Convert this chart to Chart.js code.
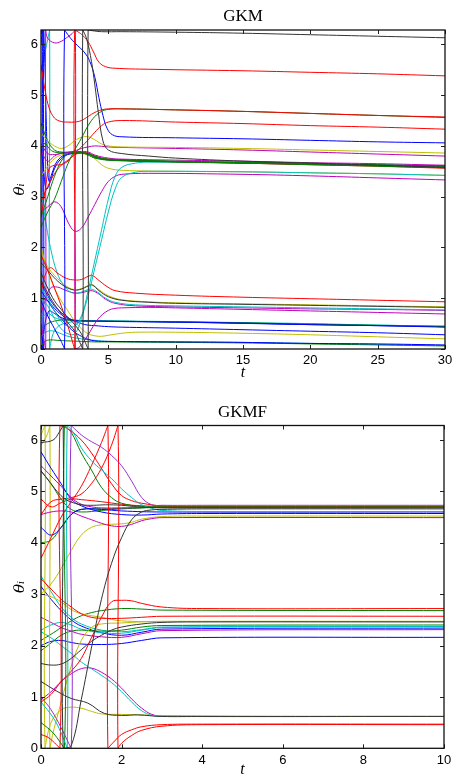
<!DOCTYPE html>
<html>
<head>
<meta charset="utf-8">
<script src="https://cdn.jsdelivr.net/npm/chart.js@4.4.1/dist/chart.umd.min.js"></script>
<style>
    body { margin: 0; background: #fff; overflow: hidden; }
    .caixa { position: absolute; left: 0; width: 454px; }
</style>
</head>
<body>
<div class="caixa" style="top:0; height:390px"><canvas id="grafico1"></canvas></div>
<div class="caixa" style="top:390px; height:392px"><canvas id="grafico2"></canvas></div>
<script>
// cores no estilo do matlab
const CORES = { b: '#0000ff', g: '#008000', r: '#ff0000', c: '#00bfbf', m: '#bf00bf', y: '#bfbf00', k: '#333333', p: '#9933cc' };
const TOPO = 2 * Math.PI;

// ---------- GKM : pares [t, theta] ----------
const gkm_k1 = [[0,1.5],[0.5,1.2],[1,0.95],[1.5,0.78],[2,0.62],[2.5,0.48],[3,0.3],[3.3,0.12],[3.5,0],[3.5,6.283],[3.8,6.27],[4.5,6.25],[6,6.25],[10,6.24],[15,6.22],[20,6.19],[25,6.16],[30,6.13]];
const gkm_k2 = [[0,1.35],[0.5,1.1],[1,0.88],[1.5,0.7],[2,0.52],[2.5,0.35],[2.8,0.18],[3.1,0],[3.1,6.283],[3.4,6.1],[3.75,5.66],[4,5.2],[4.25,4.68],[4.6,4.1],[5,3.92],[6,3.85],[8,3.8],[10,3.76],[15,3.7],[20,3.66],[25,3.62],[30,3.58]];
const gkm_r3 = [[0,1.85],[0.5,1.55],[1,1.2],[1.5,0.85],[2,0.45],[2.5,0],[2.5,6.283],[3,6.2],[3.5,6.05],[3.9,5.85],[4.3,5.65],[4.8,5.56],[5.5,5.53],[8,5.51],[15,5.48],[20,5.45],[25,5.42],[30,5.38]];
const gkm_r4 = [[0,5.6],[0.3,5.1],[0.6,4.75],[1,4.55],[1.5,4.48],[2,4.47],[2.5,4.47],[3,4.5],[3.5,4.58],[4,4.66],[4.5,4.71],[5,4.73],[6,4.73],[10,4.71],[15,4.68],[20,4.64],[25,4.6],[30,4.57]];
const gkm_g5 = [[0,2.4],[0.5,2.7],[1,2.95],[1.5,3.3],[2,3.65],[2.5,3.92],[3,4.15],[3.5,4.4],[4,4.58],[4.5,4.68],[5,4.72],[6,4.73],[10,4.71],[15,4.68],[20,4.64],[25,4.6],[30,4.56]];
const gkm_r6 = [[0,2.6],[0.3,3.1],[0.6,3.55],[1,3.62],[1.5,3.63],[2,3.7],[2.5,3.85],[3,3.98],[3.5,4.12],[4,4.27],[4.5,4.4],[5,4.47],[6,4.5],[10,4.47],[15,4.44],[20,4.4],[25,4.37],[30,4.33]];
const gkm_b7 = [[0,0.95],[0.5,0.65],[1,0.4],[1.5,0.15],[1.75,0],[1.75,6.283],[2.2,6.12],[2.7,5.98],[3.2,5.85],[3.6,5.68],[4,5.35],[4.3,4.95],[4.6,4.6],[4.9,4.35],[5.3,4.22],[6,4.18],[10,4.16],[15,4.14],[20,4.11],[25,4.08],[30,4.06]];
const gkm_y8 = [[0,4.25],[0.5,4.1],[1,4.0],[1.5,3.95],[2,4.0],[2.5,4.1],[3,4.17],[3.5,4.18],[4,4.12],[4.5,4.04],[5,4.0],[6,3.98],[10,3.97],[15,3.95],[20,3.92],[25,3.89],[30,3.86]];
const gkm_m9 = [[0,4.05],[0.5,3.85],[1,3.83],[1.5,3.85],[2,3.87],[2.5,3.9],[3,3.95],[3.5,3.98],[4,4.0],[5,3.98],[6,3.97],[10,3.95],[15,3.92],[20,3.88],[25,3.84],[30,3.8]];
const gkm_g10 = [[0,4.45],[0.5,4.1],[1,3.92],[1.5,3.88],[2,3.87],[2.5,3.87],[3,3.87],[3.5,3.85],[4,3.8],[4.5,3.76],[5,3.74],[6,3.73],[10,3.7],[15,3.68],[20,3.66],[25,3.63],[30,3.6]];
const gkm_g11 = [[0,3.95],[0.3,4.05],[0.6,3.95],[1,3.88],[2,3.86],[3,3.86],[3.5,3.84],[4,3.78],[5,3.72],[6,3.71],[10,3.69],[15,3.67],[20,3.64],[25,3.61],[30,3.58]];
const gkm_g12 = [[0,2.6],[0.5,3.0],[1,3.4],[1.5,3.7],[2,3.84],[2.5,3.87],[3,3.87],[3.5,3.82],[4,3.76],[5,3.72],[10,3.68],[15,3.66],[20,3.63],[25,3.6],[30,3.57]];
const gkm_m13 = [[0,3.9],[0.5,3.7],[1,3.8],[1.5,3.86],[2,3.88],[3,3.89],[3.5,3.88],[4,3.82],[5,3.76],[6,3.74],[10,3.72],[15,3.7],[20,3.67],[25,3.65],[30,3.62]];
const gkm_r14 = [[0,2.9],[0.5,3.2],[1,3.45],[1.5,3.62],[2,3.72],[2.5,3.82],[3,3.87],[3.5,3.86],[4,3.8],[5,3.74],[10,3.69],[15,3.66],[20,3.63],[25,3.6],[30,3.56]];
const gkm_c15 = [[0,1.0],[0.5,0.85],[1,0.6],[1.5,0.4],[2,0.3],[2.5,0.3],[3,0.6],[3.5,1.15],[4,1.75],[4.5,2.35],[5,2.95],[5.5,3.4],[6,3.58],[7,3.66],[8,3.68],[15,3.67],[20,3.65],[25,3.62],[30,3.6]];
const gkm_c16 = [[0,1.2],[0.5,1.0],[1,0.75],[1.5,0.55],[2,0.45],[2.5,0.45],[3,0.65],[3.5,1.05],[4,1.6],[4.5,2.15],[5,2.7],[5.5,3.15],[6,3.38],[7,3.48],[8,3.5],[15,3.49],[20,3.47],[25,3.45],[30,3.42]];
const gkm_m17 = [[0,2.7],[0.5,2.8],[1,2.9],[1.5,2.8],[2,2.5],[2.5,2.32],[3,2.38],[3.5,2.6],[4,2.85],[4.5,3.1],[5,3.3],[5.5,3.4],[6,3.44],[8,3.46],[15,3.44],[20,3.41],[25,3.37],[30,3.33]];
const gkm_y18 = [[0,3.4],[0.5,3.6],[1,3.75],[1.5,3.82],[2,3.86],[2.5,3.88],[3,3.85],[3.5,3.82],[4,3.75],[4.5,3.63],[5,3.56],[6,3.52],[10,3.5],[15,3.49],[20,3.47],[25,3.45],[30,3.42]];
const gkm_b20 = [[0,4.0],[0.2,3.5],[0.4,3.15],[0.7,3.3],[1,3.55],[1.5,3.75],[2,3.83],[3,3.86],[3.5,3.84],[4,3.78],[5,3.73],[10,3.69],[15,3.67],[20,3.64],[25,3.62],[30,3.6]];
const gkm_m21 = [[0,0.5],[0.2,0.2],[0.35,0],[0.35,6.283],[0.5,6.12],[1,6.03],[1.5,6.06],[2,6.15],[2.3,6.21],[2.55,6.283],[2.55,0],[2.9,0.05],[3.5,0.28],[4,0.5],[4.4,0.64],[5,0.76],[5.5,0.8],[6,0.81],[8,0.82],[10,0.81],[15,0.78],[20,0.75],[25,0.72],[30,0.69]];
const gkm_rL1 = [[0,1.1],[0.3,1.45],[0.7,1.6],[1.2,1.5],[1.9,1.39],[2.5,1.36],[3,1.37],[3.5,1.43],[3.8,1.45],[4.3,1.35],[4.9,1.23],[5.5,1.15],[7,1.1],[10,1.06],[15,1.02],[20,0.99],[25,0.96],[30,0.93]];
const gkm_kL2 = [[0,1.7],[0.5,1.55],[1,1.4],[1.5,1.28],[2,1.2],[2.5,1.16],[3,1.18],[3.5,1.24],[3.8,1.26],[4.3,1.15],[5,1.03],[6,0.96],[8,0.92],[10,0.9],[15,0.88],[20,0.86],[25,0.84],[30,0.82]];
const gkm_yL3 = [[0,1.9],[0.5,1.62],[1,1.45],[1.5,1.32],[2,1.22],[2.5,1.17],[3,1.19],[3.5,1.25],[3.8,1.27],[4.3,1.17],[5,1.05],[6,0.97],[8,0.93],[10,0.91],[15,0.89],[20,0.87],[25,0.85],[30,0.83]];
const gkm_cL4 = [[0,3.2],[0.3,2.6],[0.7,2.0],[1.2,1.5],[1.7,1.25],[2.2,1.12],[2.7,1.1],[3.2,1.14],[3.7,1.18],[4.2,1.12],[4.8,1.0],[5.5,0.92],[7,0.87],[10,0.85],[15,0.83],[20,0.81],[25,0.79],[30,0.77]];
const gkm_mL5 = [[0,0.7],[0.3,0.95],[0.7,1.2],[1.2,1.22],[1.7,1.17],[2.2,1.12],[2.7,1.1],[3.2,1.12],[3.7,1.15],[4.2,1.1],[4.8,0.98],[5.5,0.9],[7,0.85],[10,0.83],[15,0.81],[20,0.79],[25,0.78],[30,0.76]];
const gkm_bL6 = [[0,1.0],[0.5,0.95],[1,0.8],[1.5,0.68],[2,0.6],[2.5,0.56],[3,0.55],[4,0.55],[6,0.54],[10,0.53],[15,0.51],[20,0.48],[25,0.46],[30,0.43]];
const gkm_gL6 = [[0,0.4],[0.5,0.5],[1,0.55],[1.5,0.57],[2,0.57],[3,0.56],[4,0.55],[6,0.545],[10,0.535],[15,0.515],[20,0.49],[25,0.465],[30,0.44]];
const gkm_cL6 = [[0,0.6],[0.5,0.7],[1,0.62],[1.5,0.58],[2,0.57],[3,0.56],[6,0.55],[10,0.54],[15,0.52],[20,0.5],[25,0.47],[30,0.45]];
const gkm_bL7 = [[0,1.3],[0.5,1.05],[1,0.85],[1.5,0.72],[2,0.62],[2.5,0.55],[3,0.5],[3.5,0.47],[4,0.46],[5,0.44],[6,0.43],[10,0.41],[15,0.38],[20,0.35],[25,0.32],[30,0.28]];
const gkm_yL8 = [[0,2.0],[0.5,1.55],[1,1.2],[1.5,0.95],[2,0.75],[2.5,0.55],[3,0.4],[3.5,0.3],[4,0.26],[4.5,0.25],[5,0.27],[6,0.31],[7,0.33],[10,0.33],[15,0.31],[20,0.28],[25,0.24],[30,0.2]];
const gkm_bL10 = [[0,1.15],[0.5,0.95],[1,0.75],[1.5,0.6],[2,0.45],[2.5,0.33],[3,0.25],[3.5,0.19],[4,0.16],[5,0.15],[10,0.14],[15,0.13],[20,0.11],[25,0.1],[30,0.08]];
const gkm_gL11 = [[0,0.05],[0.3,0.15],[0.7,0.18],[1.2,0.17],[2,0.16],[3,0.15],[4,0.14],[5,0.14],[10,0.13],[15,0.12],[20,0.1],[25,0.08],[30,0.06]];
const gkm_cL12 = [[0,0.25],[0.5,0.35],[1,0.35],[1.5,0.3],[2,0.25],[3,0.2],[4,0.17],[5,0.15],[10,0.14],[15,0.13],[20,0.11],[25,0.09],[30,0.07]];
const gkm_bW1 = [[0,6.0],[0.1,6.283],[0.1,0],[0.3,0.5],[0.6,0.75],[1,0.7],[1.5,0.62],[2,0.58],[3,0.56],[5,0.55],[10,0.53],[20,0.48],[30,0.44]];
const gkm_bW2 = [[0,0.4],[0.12,0.15],[0.2,0],[0.2,6.283],[0.3,5.5],[0.4,4.4],[0.5,3.6],[0.6,3.3],[0.8,3.45],[1.2,3.7],[1.8,3.83],[2.5,3.86],[3.5,3.84],[4,3.78],[5,3.73],[10,3.69],[20,3.64],[30,3.61]];
const gkm_cW3 = [[0,5.5],[0.3,5.85],[0.5,6.1],[0.64,6.283],[0.64,0],[0.9,0.3],[1.3,0.45],[2,0.52],[3,0.55],[5,0.55],[10,0.53],[20,0.49],[30,0.45]];

const linhasGKM = [
    [gkm_k1,'k'],[gkm_k2,'k'],[gkm_r3,'r'],[gkm_r4,'r'],[gkm_g5,'g'],[gkm_r6,'r'],[gkm_b7,'b'],[gkm_y8,'y'],
    [gkm_m9,'m'],[gkm_g10,'g'],[gkm_g11,'g'],[gkm_g12,'g'],[gkm_m13,'m'],[gkm_r14,'r'],[gkm_c15,'c'],[gkm_c16,'c'],
    [gkm_m17,'m'],[gkm_y18,'y'],[gkm_b20,'b'],[gkm_m21,'m'],[gkm_rL1,'r'],[gkm_kL2,'k'],[gkm_yL3,'y'],[gkm_cL4,'c'],
    [gkm_mL5,'m'],[gkm_bL6,'b'],[gkm_gL6,'g'],[gkm_cL6,'c'],[gkm_bL7,'b'],[gkm_yL8,'y'],[gkm_bL10,'b'],[gkm_gL11,'g'],
    [gkm_cL12,'c'],[gkm_bW1,'b'],[gkm_bW2,'b'],[gkm_cW3,'c']
];

// ---------- GKMF : pares [t, theta] ----------
const gkmf_kB1 = [[0,5.95],[0.3,6.0],[0.45,6.15],[0.55,6.283],[0.55,0],[0.75,0.05],[1,0.95],[1.25,1.95],[1.5,2.9],[1.75,3.6],[2,4.1],[2.25,4.45],[2.5,4.6],[2.75,4.64],[3,4.65],[4,4.66],[10,4.66]];
const gkmf_kB2 = [[0,5.4],[0.2,5.2],[0.4,5.0],[0.6,4.85],[0.8,4.78],[1,4.74],[1.3,4.73],[1.6,4.74],[2,4.73],[2.4,4.7],[3,4.68],[4,4.68],[10,4.68]];
const gkmf_kB3 = [[0,1.3],[0.42,1.1],[0.75,0.97],[1.16,0.88],[1.57,0.68],[2,0.64],[2.4,0.65],[3,0.62],[4,0.62],[10,0.62]];
const gkmf_kB4 = [[0,1.65],[0.25,1.62],[0.5,1.64],[0.75,1.75],[1,1.92],[1.25,2.08],[1.5,2.2],[1.75,2.3],[2,2.36],[2.5,2.42],[3,2.45],[4,2.46],[10,2.46]];
const gkmf_pU1 = [[0,1.0],[0.25,0.75],[0.5,0.4],[0.75,0],[0.75,6.283],[1,6.1],[1.25,5.97],[1.5,5.86],[1.75,5.7],[2,5.5],[2.25,5.2],[2.5,4.88],[2.75,4.74],[3,4.73],[4,4.73],[10,4.73]];
const gkmf_cU2 = [[0,0.9],[0.3,0.6],[0.5,0.3],[0.65,0],[0.65,6.283],[0.8,6.15],[1,5.85],[1.25,5.6],[1.5,5.42],[1.75,5.25],[2,5.05],[2.25,4.88],[2.5,4.74],[2.75,4.67],[3,4.63],[4,4.61],[10,4.61]];
const gkmf_gU3 = [[0,0.5],[0.3,0.3],[0.58,0],[0.58,6.283],[0.75,6.15],[1,5.75],[1.25,5.42],[1.5,5.08],[1.75,4.88],[2,4.77],[2.5,4.71],[3,4.7],[4,4.7],[10,4.7]];
const gkmf_rR1 = [[0,3.7],[0.25,4.1],[0.5,4.5],[0.75,4.8],[1,5.1],[1.25,5.5],[1.5,5.95],[1.66,6.283],[1.66,0],[1.8,0.12],[2,0.27],[2.25,0.36],[2.5,0.42],[3,0.46],[4,0.47],[10,0.47]];
const gkmf_rR3 = [[0,4.55],[0.25,4.8],[0.5,4.85],[0.75,4.88],[1,4.95],[1.25,5.15],[1.5,5.45],[1.75,5.9],[1.91,6.283],[1.91,0],[2,0.1],[2.25,0.25],[2.5,0.35],[3,0.43],[4,0.46],[10,0.46]];
const gkmf_rR4 = [[0,0.27],[0.2,0.2],[0.47,0],[0.47,6.283],[0.7,6.2],[1,6.0],[1.25,5.75],[1.5,5.45],[1.75,5.15],[2,4.92],[2.25,4.82],[2.5,4.77],[3,4.72],[4,4.71],[10,4.71]];
const gkmf_rR5 = [[0,4.85],[0.25,4.7],[0.5,4.78],[0.75,4.85],[1,4.84],[1.5,4.8],[2,4.75],[2.5,4.72],[3,4.71],[10,4.71]];
const gkmf_rR6 = [[0,3.3],[0.25,3.1],[0.5,2.9],[0.75,2.75],[1,2.62],[1.25,2.55],[1.5,2.53],[2,2.53],[2.5,2.55],[3,2.57],[10,2.57]];
const gkmf_rTop = [[0,0.9],[0.25,1.05],[0.5,1.3],[0.75,1.5],[1,1.75],[1.25,2.15],[1.5,2.55],[1.75,2.85],[2,2.88],[2.25,2.87],[2.5,2.82],[3,2.75],[4,2.72],[10,2.72]];
const gkmf_bU5 = [[0,5.77],[0.25,5.45],[0.5,5.15],[0.75,4.85],[1,4.72],[1.5,4.6],[2,4.55],[2.5,4.54],[3,4.56],[4,4.57],[10,4.57]];
const gkmf_bU6 = [[0,4.3],[0.25,4.15],[0.5,4.3],[0.75,4.55],[1,4.65],[1.5,4.65],[2,4.62],[3,4.6],[10,4.6]];
const gkmf_mM1 = [[0,5.5],[0.25,5.3],[0.5,5.1],[0.75,4.88],[1,4.75],[1.25,4.7],[1.5,4.68],[2,4.68],[3,4.69],[10,4.7]];
const gkmf_mM2 = [[0,4.55],[0.25,4.6],[0.5,4.62],[0.75,4.6],[1,4.52],[1.25,4.45],[1.5,4.38],[1.75,4.33],[2,4.32],[2.25,4.36],[2.5,4.43],[2.75,4.47],[3,4.49],[10,4.49]];
const gkmf_yY1 = [[0,3.0],[0.25,3.2],[0.5,3.5],[0.75,3.85],[1,4.15],[1.25,4.3],[1.5,4.35],[1.75,4.36],[2,4.37],[2.25,4.4],[2.5,4.46],[3,4.51],[4,4.52],[10,4.52]];
const gkmf_yY2 = [[0,6.1],[0.1,6.283],[0.1,0],[0.25,0.5],[0.5,0.75],[0.75,0.8],[1,0.78],[1.25,0.72],[1.5,0.67],[2,0.66],[2.5,0.65],[3,0.63],[4,0.62],[10,0.62]];
const gkmf_yY3 = [[0,5.9],[0.15,6.1],[0.22,6.283],[0.22,0],[0.3,0.3],[0.5,0.9],[0.75,1.6],[1,2.1],[1.25,2.35],[1.5,2.42],[2,2.44],[2.5,2.46],[3,2.47],[10,2.47]];
const gkmf_yY4 = [[0,3.0],[0.25,2.95],[0.5,2.85],[0.75,2.7],[1,2.62],[1.5,2.55],[2,2.48],[3,2.47],[10,2.47]];
const gkmf_gG2 = [[0,5.4],[0.25,5.15],[0.5,4.85],[0.75,4.65],[1,4.6],[1.5,4.63],[2,4.66],[3,4.69],[10,4.7]];
const gkmf_gG3 = [[0,4.0],[0.25,4.05],[0.5,4.3],[0.75,4.55],[1,4.65],[1.5,4.66],[2,4.67],[3,4.69],[10,4.7]];
const gkmf_gG4 = [[0,2.1],[0.25,2.22],[0.5,2.35],[0.75,2.48],[1,2.58],[1.25,2.64],[1.5,2.68],[2,2.72],[2.5,2.71],[3,2.69],[10,2.68]];
const gkmf_gG5 = [[0,1.9],[0.25,2.05],[0.5,2.2],[0.75,2.28],[1,2.3],[1.5,2.28],[2,2.3],[2.5,2.36],[3,2.39],[10,2.4]];
const gkmf_cC1 = [[0,2.3],[0.25,2.4],[0.5,2.45],[0.75,2.4],[1,2.32],[1.5,2.25],[2,2.24],[2.5,2.3],[3,2.35],[10,2.37]];
const gkmf_cC2 = [[0,2.27],[0.25,2.15],[0.5,2.0],[0.75,1.85],[1,1.68],[1.25,1.55],[1.5,1.42],[1.75,1.28],[2,1.1],[2.25,0.9],[2.5,0.73],[2.75,0.64],[3,0.62],[10,0.62]];
const gkmf_cC3 = [[0,3.35],[0.25,3.05],[0.5,2.75],[0.75,2.55],[1,2.42],[1.5,2.3],[2,2.27],[2.5,2.31],[3,2.36],[10,2.37]];
const gkmf_bBL1 = [[0,3.15],[0.25,2.9],[0.5,2.68],[0.75,2.5],[1,2.38],[1.5,2.25],[2,2.2],[2.5,2.26],[3,2.32],[10,2.34]];
const gkmf_bBL2 = [[0,2.0],[0.25,2.08],[0.5,2.1],[0.75,2.06],[1,2.03],[1.5,2.02],[2,2.04],[2.5,2.1],[3,2.15],[10,2.16]];
const gkmf_mMG1 = [[0,2.55],[0.25,2.45],[0.5,2.35],[0.75,2.28],[1,2.22],[1.5,2.17],[2,2.16],[2.5,2.23],[3,2.29],[10,2.31]];
const gkmf_mMG2 = [[0,0.95],[0.25,1.1],[0.5,1.3],[0.75,1.45],[1,1.55],[1.25,1.56],[1.5,1.48],[1.75,1.35],[2,1.17],[2.25,0.96],[2.5,0.78],[2.75,0.66],[3,0.63],[10,0.62]];

const linhasGKMF = [
    [gkmf_kB1,'k'],[gkmf_kB2,'k'],[gkmf_kB3,'k'],[gkmf_kB4,'k'],[gkmf_pU1,'p'],[gkmf_cU2,'c'],[gkmf_gU3,'g'],
    [gkmf_rR1,'r'],[gkmf_rR3,'r'],[gkmf_rR4,'r'],[gkmf_rR5,'r'],[gkmf_rR6,'r'],[gkmf_rTop,'r'],[gkmf_bU5,'b'],
    [gkmf_bU6,'b'],[gkmf_mM1,'m'],[gkmf_mM2,'m'],[gkmf_yY1,'y'],[gkmf_yY2,'y'],[gkmf_yY3,'y'],[gkmf_yY4,'y'],
    [gkmf_gG2,'g'],[gkmf_gG3,'g'],[gkmf_gG4,'g'],[gkmf_gG5,'g'],[gkmf_cC1,'c'],[gkmf_cC2,'c'],[gkmf_cC3,'c'],
    [gkmf_bBL1,'b'],[gkmf_bBL2,'b'],[gkmf_mMG1,'m'],[gkmf_mMG2,'m']
];

Chart.defaults.font.family = '"Liberation Sans", Arial, sans-serif';
Chart.defaults.color = '#000';

// caixa fechada com ticks para dentro (estilo matlab)
const moldura = {
    id: 'moldura',
    afterDraw(chart) {
        const ctx = chart.ctx;
        const a = chart.chartArea;
        const sx = chart.scales.x;
        const sy = chart.scales.y;
        ctx.save();
        ctx.strokeStyle = '#222';
        ctx.lineWidth = 1;
        ctx.beginPath();
        sx.ticks.forEach(function (tk) {
            const p = Math.round(sx.getPixelForValue(tk.value)) + 0.5;
            ctx.moveTo(p, a.bottom); ctx.lineTo(p, a.bottom - 4);
            ctx.moveTo(p, a.top); ctx.lineTo(p, a.top + 4);
        });
        sy.ticks.forEach(function (tk) {
            const p = Math.round(sy.getPixelForValue(tk.value)) + 0.5;
            ctx.moveTo(a.left, p); ctx.lineTo(a.left + 4, p);
            ctx.moveTo(a.right, p); ctx.lineTo(a.right - 4, p);
        });
        ctx.stroke();
        ctx.lineWidth = 1.3;
        ctx.strokeStyle = '#111';
        ctx.strokeRect(a.left, a.top, a.right - a.left, a.bottom - a.top);
        ctx.restore();
    }
};

function montaGrafico(id, titulo, linhas, xMax, xPasso, alturaX, tituloPad, tPad, padDireita) {
    const datasets = linhas.map(function (l) {
        return {
            data: l[0],
            borderColor: CORES[l[1]],
            borderWidth: 1,
            pointRadius: 0,
            tension: 0.4,
            fill: false
        };
    });
    return new Chart(document.getElementById(id), {
        type: 'line',
        data: { datasets: datasets },
        options: {
            responsive: true,
            maintainAspectRatio: false,
            animation: false,
            layout: { padding: { left: 0, right: padDireita, top: 0, bottom: 0 } },
            scales: {
                x: {
                    type: 'linear',
                    min: 0,
                    max: xMax,
                    ticks: { stepSize: xPasso, padding: 0, font: { size: 13 }, color: '#000', maxRotation: 0 },
                    grid: { drawOnChartArea: false, tickLength: 4, tickColor: 'rgba(0,0,0,0)' },
                    border: { display: false },
                    title: {
                        display: true,
                        text: 't',
                        color: '#000',
                        font: { family: '"Liberation Serif", serif', style: 'italic', size: 16, lineHeight: 1.2 },
                        padding: { top: 0, bottom: tPad }
                    },
                    afterFit: function (s) { s.height = alturaX; }
                },
                y: {
                    min: 0,
                    max: TOPO,
                    ticks: { stepSize: 1, includeBounds: false, padding: 0, font: { size: 13 }, color: '#000' },
                    grid: { drawOnChartArea: false, tickLength: 3, tickColor: 'rgba(0,0,0,0)' },
                    border: { display: false },
                    title: {
                        display: true,
                        text: 'θᵢ',
                        color: '#000',
                        font: { family: '"DejaVu Serif", serif', style: 'italic', size: 15, lineHeight: 1.2 },
                        padding: { top: 11, bottom: 0 }
                    },
                    afterFit: function (s) { s.width = 41; }
                }
            },
            plugins: {
                legend: { display: false },
                tooltip: { enabled: false },
                title: {
                    display: true,
                    text: titulo,
                    fullSize: false,
                    color: '#000',
                    font: { family: '"Liberation Serif", serif', size: 17, weight: 'normal', lineHeight: 1.2 },
                    padding: tituloPad
                }
            }
        },
        plugins: [moldura]
    });
}

const grafico_1 = montaGrafico('grafico1', 'GKM', linhasGKM, 30, 5, 41, { top: 6, bottom: 3.6 }, 7.4, 9);
const grafico_2 = montaGrafico('grafico2', 'GKMF', linhasGKMF, 10, 2, 33.7, { top: 12.8, bottom: 2.3 }, 2.4, 10);
</script>
</body>
</html>
